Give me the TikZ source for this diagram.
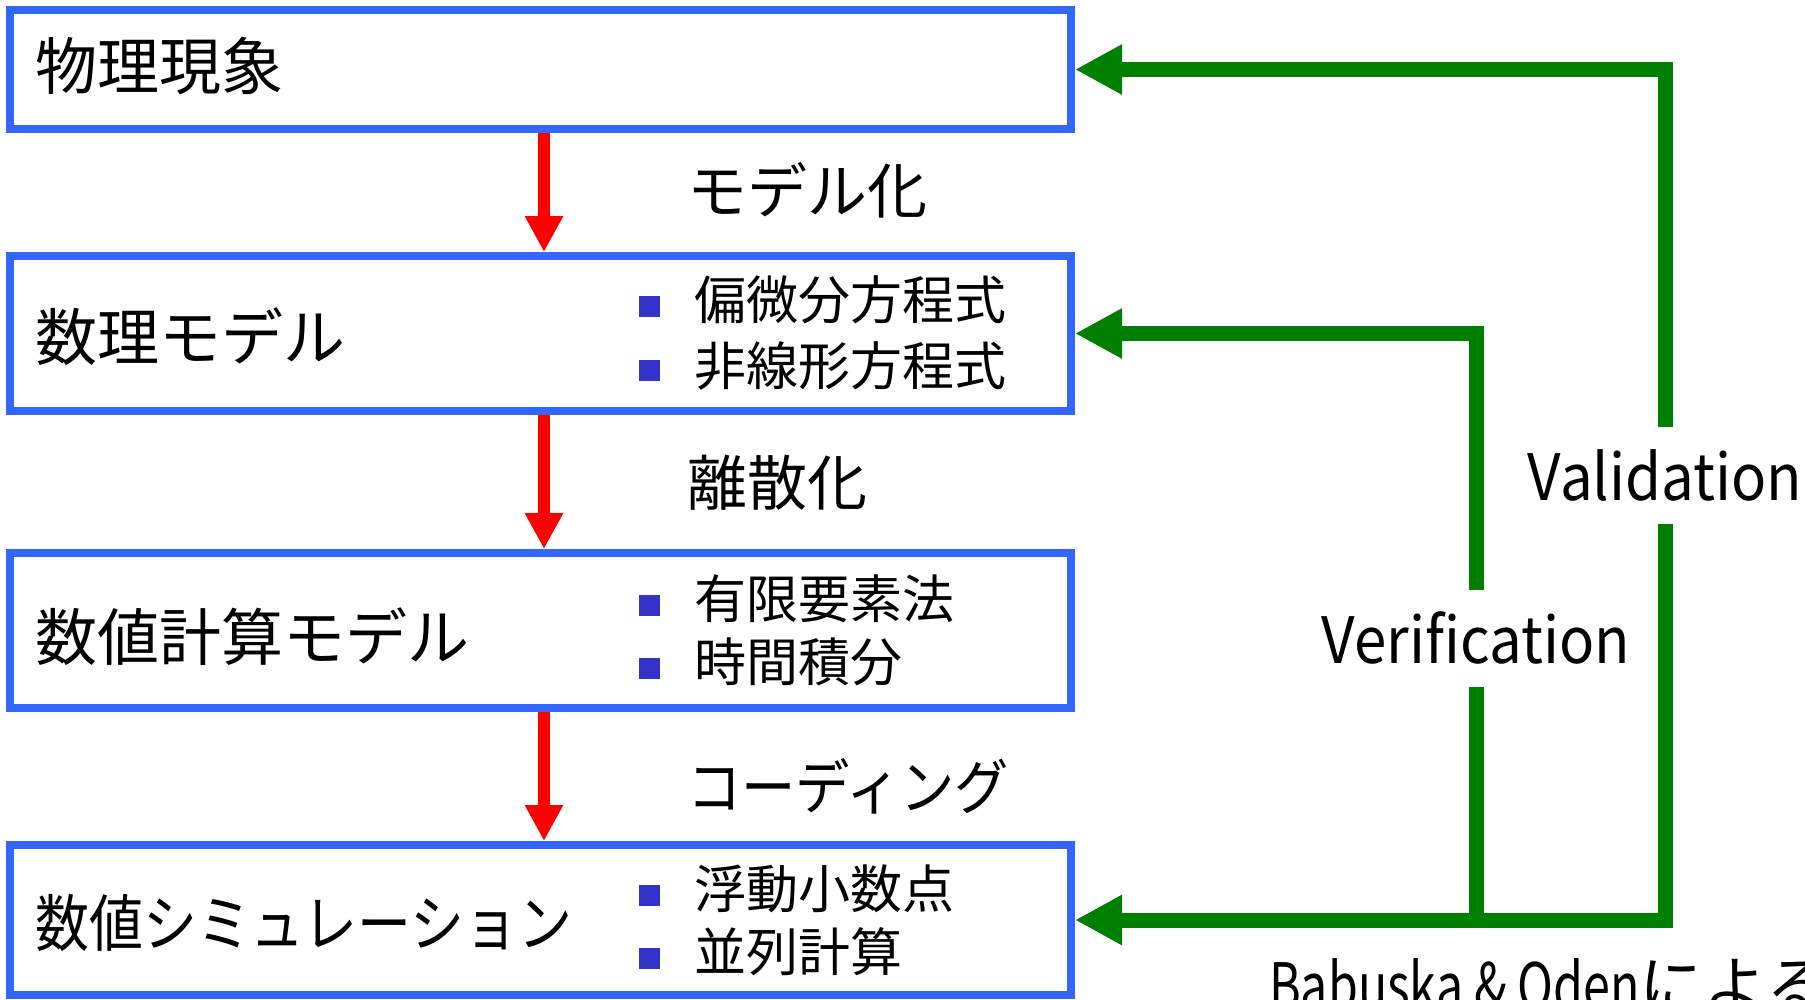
\documentclass[tikz,border=0pt]{standalone}
\usepackage{fontspec}
\setmainfont{Noto Sans CJK JP}
\usetikzlibrary{arrows.meta}
\definecolor{boxblue}{RGB}{51,102,255}
\definecolor{bulletblue}{RGB}{51,51,204}
\definecolor{ggreen}{RGB}{0,128,0}
\definecolor{rred}{RGB}{255,0,0}
\tikzset{
  mainbox/.style={draw=boxblue, line width=8pt, rectangle, minimum width=1061pt, inner sep=0pt},
  bigtext/.style={anchor=west, inner sep=0pt, font=\fontsize{62}{62}\selectfont},
  subtext/.style={anchor=west, inner sep=0pt, font=\fontsize{52}{52}\selectfont},
  labtext/.style={anchor=west, inner sep=0pt, font=\fontsize{60}{60}\selectfont},
  glab/.style={inner sep=0pt, minimum height=97pt, font=\fontsize{64}{64}\selectfont},
  bulletsq/.style={fill=bulletblue, draw=none, minimum size=21pt, inner sep=0pt, rectangle},
  redarrow/.style={draw=rred, line width=12pt, >={Triangle[length=36pt,width=36pt]}, ->},
  greenline/.style={draw=ggreen, line width=15pt, >={Triangle[length=47pt,width=47pt]}},
}
\begin{document}
\begin{tikzpicture}[x=1pt,y=-1pt]
\useasboundingbox (0,0) rectangle (1805,999);
\clip (0,0) rectangle (1805,999);
% boxes
\node[mainbox, minimum height=119pt] (b1) at (540.5,69.5) {};
\node[mainbox, minimum height=155pt] (b2) at (540.5,333.5) {};
\node[mainbox, minimum height=155pt] (b3) at (540.5,630.5) {};
\node[mainbox, minimum height=150pt] (b4) at (540.5,920) {};
% main texts
\node[bigtext] (t1) at (35,66) {物理現象};
\node[bigtext] (t2) at (35,337) {数理モデル};
\node[bigtext] (t3) at (35,637) {数値計算モデル};
\node[bigtext] (t4) at (35,923) {\scalebox{0.87}[1]{数値シミュレーション}};
% bullets and sub items
\node[bulletsq] (q1) at (649,306) {};
\node[subtext] (s1) at (694,300) {偏微分方程式};
\node[bulletsq] (q2) at (649,370) {};
\node[subtext] (s2) at (694,366) {非線形方程式};
\node[bulletsq] (q3) at (649,605) {};
\node[subtext] (s3) at (694,599) {有限要素法};
\node[bulletsq] (q4) at (649,668) {};
\node[subtext] (s4) at (694,662) {時間積分};
\node[bulletsq] (q5) at (649,895) {};
\node[subtext] (s5) at (694,889) {浮動小数点};
\node[bulletsq] (q6) at (649,958) {};
\node[subtext] (s6) at (694,952) {並列計算};
% arrow labels
\node[labtext] (l1) at (687,190) {モデル化};
\node[labtext] (l2) at (687,483) {離散化};
\node[labtext] (l3) at (687,786) {\scalebox{0.905}[1]{コーディング}};
% red arrows
\draw[redarrow] ([xshift=3.5pt]b1.south) -- ([xshift=3.5pt]b2.north);
\draw[redarrow] ([xshift=3.5pt]b2.south) -- ([xshift=3.5pt]b3.north);
\draw[redarrow] ([xshift=3.5pt]b3.south) -- ([xshift=3.5pt]b4.north);
% green labels
\node[glab] (val) at (1665,475.5) {\scalebox{0.91}[1]{Validation}};
\node[glab] (ver) at (1476,638.5) {\scalebox{0.91}[1]{Verification}};
\coordinate (vt) at (1665,69.5);
\coordinate (vb) at (1665,920);
\coordinate (wt) at (1476,333.5);
\coordinate (wb) at (1476,920);
% green connectors
\draw[greenline, <-] (b1.east) -- (vt) -- (val.north);
\draw[greenline, ->] (val.south) -- (vb) -- (b4.east);
\draw[greenline] (wb) -- (ver.south);
\draw[greenline, ->] (ver.north) -- (wt) -- (b2.east);
% footnote
\node[anchor=base west, inner sep=0pt, font=\fontsize{64}{64}\selectfont] (bo) at (1269,1009) {\scalebox{0.755}[1]{Babuska \& Oden}による};
\end{tikzpicture}
\end{document}
